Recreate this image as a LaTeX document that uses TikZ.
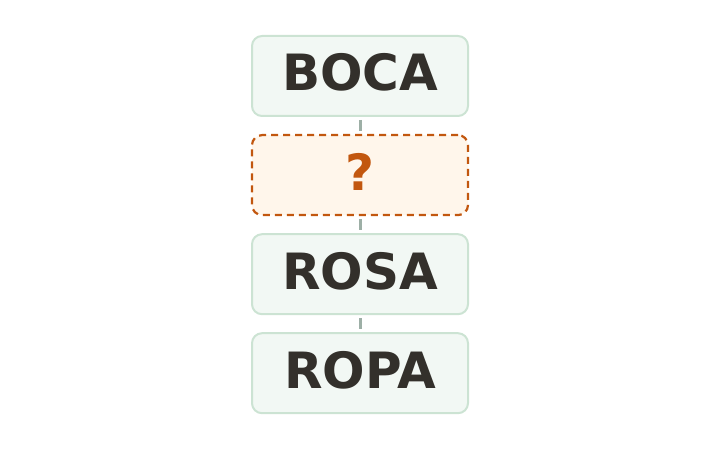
\documentclass[tikz,border=0pt]{standalone}
\usepackage{fontspec}
\setmainfont{DejaVu Sans}
\usetikzlibrary{positioning}
\definecolor{wordfill}{HTML}{F2F8F4}
\definecolor{wordline}{HTML}{CCE3D3}
\definecolor{wordtext}{HTML}{33302B}
\definecolor{gapfill}{HTML}{FFF6EB}
\definecolor{gapline}{HTML}{C2570F}
\definecolor{linkgray}{HTML}{9DAFA6}

\begin{document}
\begin{tikzpicture}[x=1pt,y=1pt,
		word/.style={draw=wordline,fill=wordfill,line width=2pt,rounded corners=10pt,minimum width=216pt,minimum height=80pt,inner sep=0pt,text height=36.5pt,text depth=6.5pt,font=\fontsize{50}{51}\selectfont\bfseries,text=wordtext},
		gap/.style={word,draw=gapline,fill=gapfill,text=gapline,line width=2.2pt,dash pattern=on 7pt off 5pt},
		link/.style={draw=linkgray,line width=3pt,shorten <=3pt,shorten >=3pt}]
		\useasboundingbox (0,0) rectangle (720,450);
		\node[word] (boca) at (360,374) {BOCA};
		\node[gap,below=17pt of boca] (missing) {?};
		\node[word,below=17pt of missing] (rosa) {ROSA};
		\node[word,below=17pt of rosa] (ropa) {ROPA};
		\draw[link] (boca) -- (missing);
		\draw[link] (missing) -- (rosa);
		\draw[link] (rosa) -- (ropa);
	\end{tikzpicture}
\end{document}
